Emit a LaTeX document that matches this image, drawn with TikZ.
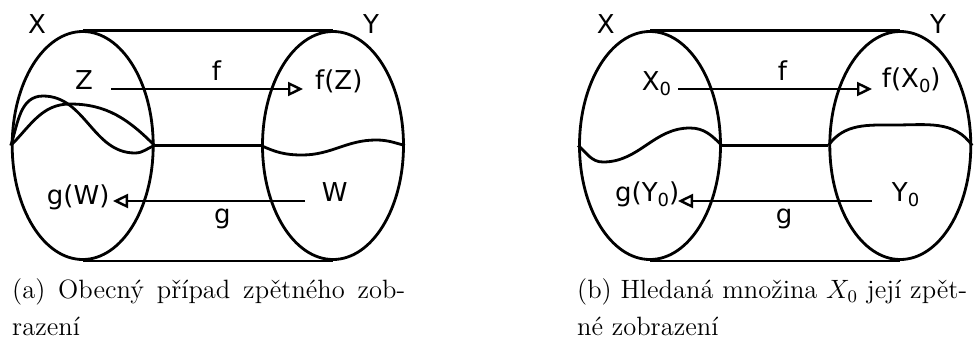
\documentclass[tikz,border=0pt]{standalone}
\usepackage{fontspec}
\usepackage{graphicx}
\newfontfamily\labfont{DejaVu Sans}
\usetikzlibrary{arrows.meta,shapes.geometric}
\newcommand\lsub[1]{\raisebox{-5pt}{\fontsize{18}{18}\selectfont #1}}
\begin{document}
\begin{tikzpicture}[x=1pt,y=1pt,
  setshape/.style={draw, ellipse, line width=2.8pt, minimum width=141pt, minimum height=228pt, inner sep=0pt},
  edge/.style={line width=2.8pt},
  curve/.style={line width=2.8pt},
  arr/.style={line width=2.4pt, -{Triangle[open, length=15pt, width=14pt]}},
  lab/.style={inner sep=0pt, anchor=base west, font=\labfont\fontsize{26}{26}\selectfont},
  labc/.style={lab, anchor=base},
  captext/.style={inner sep=0pt, anchor=base west}]
\useasboundingbox (0,0) rectangle (975,-338);
% ---------- (a) ----------
\node[setshape] (LA) at (82.7,-145.5) {};
\node[setshape] (RA) at (333,-145.5) {};
\draw[edge] (LA.north) -- (RA.north);
\draw[edge] (LA.south) -- (RA.south);
\draw[edge] (LA.east) -- (RA.west);
\draw[curve] (LA.west) to[out=72,in=180] (43,-96) to[out=0,in=180] (135,-153) to[out=0,in=200] (LA.east);
\draw[curve] (LA.west) to[out=45,in=180] (70,-104) to[out=0,in=135] (LA.east);
\draw[curve] (RA.west) to[out=-25,in=180] (302,-155) to[out=0,in=180] (376,-140) to[out=0,in=165] (RA.east);
\node[lab] (XA) at (28,-33) {X};
\node[lab] (YA) at (363,-33) {Y};
\node[lab] (ZA) at (75,-89) {Z};
\node[labc] (fA) at (216.5,-80) {f};
\node[lab] (fZA) at (315,-89) {f(Z)};
\node[lab] (gWA) at (46.7,-204) {g(W)};
\node[lab] (WA) at (321.7,-201) {W};
\node[labc] (gA) at (222.5,-223) {g};
\coordinate (fsA) at (111,-89);
\coordinate (feA) at (303,-89);
\coordinate (gsA) at (305,-201);
\coordinate (geA) at (113,-201);
\draw[arr] (fsA) -- (feA);
\draw[arr] (gsA) -- (geA);
\node[captext] (capA) at (12,-298.5) {\scalebox{2.2083}{\parbox[t]{178pt}{\fontsize{12}{16.62}\selectfont (a) Obecný případ zpětného zob-\linebreak razení}}};
% ---------- (b) ----------
\node[setshape] (LB) at (650,-145.5) {};
\node[setshape] (RB) at (900.3,-145.5) {};
\draw[edge] (LB.north) -- (RB.north);
\draw[edge] (LB.south) -- (RB.south);
\draw[edge] (LB.east) -- (RB.west);
\draw[curve] (LB.west) to[out=-40,in=180] (603,-162) to[out=0,in=180] (690,-128) to[out=0,in=135] (LB.east);
\draw[curve] (RB.west) to[out=55,in=180] (895,-125) to[out=0,in=125] (RB.east);
\node[lab] (XB) at (596.7,-33) {X};
\node[lab] (YB) at (930,-33) {Y};
\node[lab] (X0B) at (641.7,-90) {X\lsub{0}};
\node[labc] (fB) at (782.5,-80) {f};
\node[lab] (fX0B) at (881.7,-87) {f(X\lsub{0})};
\node[lab] (gY0B) at (615,-201) {g(Y\lsub{0})};
\node[lab] (Y0B) at (891.7,-201) {Y\lsub{0}};
\node[labc] (gB) at (784,-223) {g};
\coordinate (fsB) at (678,-89);
\coordinate (feB) at (872,-89);
\coordinate (gsB) at (872,-201);
\coordinate (geB) at (678,-201);
\draw[arr] (fsB) -- (feB);
\draw[arr] (gsB) -- (geB);
\node[captext] (capB) at (577,-298.5) {\scalebox{2.2083}{\parbox[t]{176.6pt}{\fontsize{12}{16.62}\selectfont (b) Hledaná množina $X_0$ její zpět-\linebreak né zobrazení}}};
\end{tikzpicture}
\end{document}
